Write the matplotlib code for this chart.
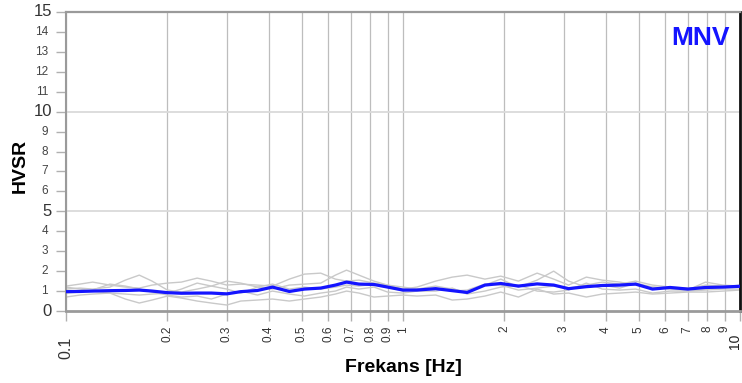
import matplotlib
matplotlib.use("Agg")
import matplotlib.pyplot as plt
from matplotlib.transforms import offset_copy

plt.rcParams['font.family'] = ['Liberation Sans', 'DejaVu Sans']

# Frequency samples (Hz)
freq = [0.10, 0.11, 0.12, 0.135, 0.15, 0.165, 0.18, 0.20, 0.22, 0.245, 0.27, 0.30,
        0.33, 0.37, 0.41, 0.46, 0.51, 0.57, 0.63, 0.68, 0.74, 0.82, 0.90, 1.0,
        1.1, 1.25, 1.4, 1.55, 1.75, 1.95, 2.2, 2.5, 2.8, 3.1, 3.5, 3.9,
        4.4, 4.9, 5.5, 6.2, 7.0, 7.9, 8.9, 10.0]

# Mean H/V curve
hvsr_mean = [0.97, 0.98, 1.0, 1.02, 1.03, 1.05, 1.0, 0.92, 0.89, 0.90, 0.90, 0.86,
             0.97, 1.03, 1.2, 0.98, 1.1, 1.15, 1.3, 1.45, 1.35, 1.33, 1.2, 1.05,
             1.05, 1.12, 1.02, 0.93, 1.3, 1.38, 1.25, 1.36, 1.3, 1.12, 1.22, 1.28,
             1.3, 1.35, 1.1, 1.18, 1.1, 1.18, 1.2, 1.24]

# Individual window curves
win_1 = [1.25, 1.35, 1.45, 1.3, 1.2, 1.15, 1.3, 1.4, 1.45, 1.65, 1.5, 1.3,
         1.35, 1.3, 1.25, 1.6, 1.85, 1.9, 1.6, 1.5, 1.55, 1.4, 1.3, 1.1,
         1.2, 1.5, 1.7, 1.8, 1.6, 1.75, 1.5, 1.9, 1.6, 1.3, 1.7, 1.55,
         1.45, 1.3, 1.2, 1.15, 1.1, 1.3, 1.25, 1.2]
win_2 = [1.1, 1.15, 1.1, 1.2, 1.55, 1.8, 1.5, 1.05, 0.95, 1.1, 1.25, 1.5,
         1.4, 1.2, 1.1, 1.3, 1.35, 1.4, 1.8, 2.05, 1.8, 1.5, 1.3, 1.2,
         1.1, 1.25, 1.1, 0.95, 1.3, 1.6, 1.2, 1.55, 2.0, 1.5, 1.2, 1.3,
         1.15, 1.4, 1.2, 1.1, 1.05, 1.45, 1.3, 1.25]
win_3 = [0.7, 0.8, 0.85, 0.9, 0.6, 0.4, 0.55, 0.75, 0.65, 0.5, 0.4, 0.3,
         0.5, 0.55, 0.6, 0.5, 0.6, 0.7, 0.85, 1.0, 0.9, 0.7, 0.75, 0.8,
         0.75, 0.8, 0.55, 0.6, 0.75, 0.95, 0.7, 1.1, 0.85, 0.9, 0.7, 0.85,
         0.9, 0.95, 0.85, 0.9, 0.95, 0.95, 1.0, 1.05]
win_4 = [0.9, 0.95, 1.05, 1.35, 1.25, 1.1, 0.95, 0.8, 0.7, 0.75, 0.6, 0.85,
         1.0, 0.8, 1.0, 0.85, 0.75, 0.9, 1.0, 1.2, 1.1, 1.2, 0.95, 0.9,
         1.0, 1.0, 1.15, 0.85, 1.0, 1.2, 1.3, 1.0, 0.95, 1.05, 1.4, 1.1,
         1.05, 1.1, 0.9, 1.0, 1.0, 1.05, 1.1, 1.1]
win_5 = [1.2, 1.1, 1.0, 0.9, 0.85, 0.8, 0.85, 0.9, 1.1, 1.4, 1.25, 1.1,
         0.9, 1.2, 1.35, 1.1, 1.2, 1.1, 1.2, 1.3, 1.25, 1.35, 1.2, 1.0,
         1.1, 1.15, 1.0, 1.05, 1.35, 1.3, 1.05, 1.15, 1.25, 1.15, 1.3, 1.45,
         1.35, 1.5, 1.3, 1.2, 1.15, 1.1, 1.2, 1.3]
windows = [win_1, win_2, win_3, win_4, win_5]

x_ticks = [0.1, 0.2, 0.3, 0.4, 0.5, 0.6, 0.7, 0.8, 0.9, 1, 2, 3, 4, 5, 6, 7, 8, 9, 10]
x_labels = ['0.1', '0.2', '0.3', '0.4', '0.5', '0.6', '0.7', '0.8', '0.9', '1',
            '2', '3', '4', '5', '6', '7', '8', '9', '10']
y_major = [0, 5, 10, 15]
y_minor = [1, 2, 3, 4, 6, 7, 8, 9, 11, 12, 13, 14]

W, H = 742, 383
fig = plt.figure(figsize=(W / 100, H / 100), dpi=100)
ax = fig.add_axes([66 / W, 72 / H, 674 / W, 299 / H])

ax.set_xscale('log')
ax.set_xlim(0.1, 10)
ax.set_ylim(0, 15)

# ticks and grid
ax.set_xticks(x_ticks)
ax.set_xticks([], minor=True)
ax.set_xticklabels([])
ax.set_yticks(sorted(y_major + y_minor))
ax.set_yticklabels([])
ax.tick_params(axis='both', direction='out', length=7, width=1, color='#b0b0b0')
for xv in x_ticks:
    ax.axvline(xv, color='#bdbdbd', lw=0.9, zorder=0)
for yv in [5, 10]:
    ax.axhline(yv, color='#dadada', lw=1.3, zorder=0)

for w in windows:
    ax.plot(freq, w, color='#c9c9c9', lw=1.0, zorder=2)
ax.plot(freq, hvsr_mean, color='#1414ff', lw=2.3, zorder=3)

for side in ['left', 'top', 'bottom']:
    ax.spines[side].set_color('#9a9a9a')
ax.spines['left'].set_linewidth(1.5)
ax.spines['top'].set_linewidth(1.6)
ax.spines['bottom'].set_linewidth(2.0)
ax.spines['right'].set_color('#111111')
ax.spines['right'].set_linewidth(2.0)

xt = ax.get_xaxis_transform()
for xv, lab in zip(x_ticks, x_labels):
    if lab == '0.1':
        ax.text(xv, -26 / 299, lab, transform=xt, rotation=90, ha='center', va='top',
                fontsize=11.5, color='#333333', clip_on=False)
    elif lab == '10':
        t = offset_copy(xt, fig=fig, x=1.5, y=0, units='dots')
        ax.text(xv, -23 / 299, lab, transform=t, rotation=90, ha='right', va='top',
                fontsize=10, color='#222222', clip_on=False)
    else:
        ax.text(xv, -15 / 299, lab, transform=xt, rotation=90, ha='center', va='top',
                fontsize=8.5, color='#333333', clip_on=False)

yt = ax.get_yaxis_transform()
for yv in y_major:
    ax.text(-14 / 674, yv, str(yv), transform=yt, ha='right', va='center',
            fontsize=12, color='#333333')
for yv in y_minor:
    ax.text(-18 / 674, yv, str(yv), transform=yt, ha='right', va='center',
            fontsize=8.5, color='#444444')

fig.text(20 / W, (H - 166) / H, 'HVSR', rotation=90, ha='center', va='center',
         fontsize=14, fontweight='bold', color='black')
fig.text(403 / W, (H - 368) / H, 'Frekans [Hz]', ha='center', va='center',
         fontsize=14, fontweight='bold', color='black')
fig.text(730 / W, (H - 38) / H, 'MNV', ha='right', va='center',
         fontsize=19, fontweight='bold', color='#1414ff')

fig.savefig('out.png', dpi=100)
